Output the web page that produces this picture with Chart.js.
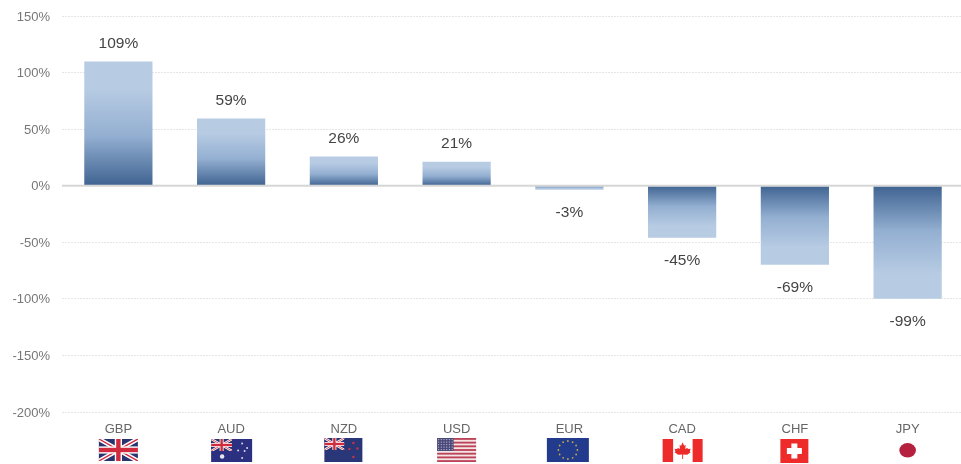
<!DOCTYPE html>
<html>
<head>
<meta charset="utf-8">
<script src="https://cdn.jsdelivr.net/npm/chart.js@4"></script>
<style>
html, body { margin: 0; padding: 0; background: #fff; overflow: hidden; }
#wrap { width: 964px; height: 464px; }
</style>
</head>
<body>
<div id="wrap"><canvas id="chart"></canvas></div>
<script>
const categories = ["GBP", "AUD", "NZD", "USD", "EUR", "CAD", "CHF", "JPY"];
const values = [109.7, 59.3, 25.8, 21.2, -3.5, -45.9, -69.9, -99.9];
const valueLabels = ["109%", "59%", "26%", "21%", "-3%", "-45%", "-69%", "-99%"];
const yTicks = [150, 100, 50, 0, -50, -100, -150, -200];

const FONT = '"Liberation Sans", Arial, sans-serif';

function barGradient(context) {
    const chart = context.chart;
    const y = chart.scales.y;
    if (!y || !chart.chartArea) {
        return "#b7cbe3";
    }
    const base = y.getPixelForValue(0);
    const end = y.getPixelForValue(values[context.dataIndex]);
    const g = chart.ctx.createLinearGradient(0, base, 0, end);
    g.addColorStop(0, "#3f6391");
    g.addColorStop(0.4, "#93afd1");
    g.addColorStop(0.78, "#b7cbe3");
    g.addColorStop(1, "#b7cbe3");
    return g;
}

// small helpers for the flags
function rect(c, color, x, y, w, h) {
    c.fillStyle = color;
    c.fillRect(x, y, w, h);
}

function line(c, color, width, x1, y1, x2, y2) {
    c.strokeStyle = color;
    c.lineWidth = width;
    c.beginPath();
    c.moveTo(x1, y1);
    c.lineTo(x2, y2);
    c.stroke();
}

function dot(c, color, x, y, r) {
    c.fillStyle = color;
    c.beginPath();
    c.arc(x, y, r, 0, Math.PI * 2);
    c.fill();
}

function unionJack(c, x, y, w, h) {
    rect(c, "#28336f", x, y, w, h);
    c.save();
    c.beginPath();
    c.rect(x, y, w, h);
    c.clip();
    const t = h / 22;
    line(c, "#fff", 4.4 * t, x, y, x + w, y + h);
    line(c, "#fff", 4.4 * t, x + w, y, x, y + h);
    line(c, "#cf2a3e", 1.4 * t, x, y, x + w, y + h);
    line(c, "#cf2a3e", 1.4 * t, x + w, y, x, y + h);
    rect(c, "#fff", x + w / 2 - 3.6 * t, y, 7.2 * t, h);
    rect(c, "#fff", x, y + h / 2 - 3.6 * t, w, 7.2 * t);
    rect(c, "#cf2a3e", x + w / 2 - 2.2 * t, y, 4.4 * t, h);
    rect(c, "#cf2a3e", x, y + h / 2 - 2.2 * t, w, 4.4 * t);
    c.restore();
}

const flagDrawers = {
    GBP(c, cx) {
        unionJack(c, cx - 19.5, 439, 39, 22);
    },
    AUD(c, cx) {
        const x = cx - 20, y = 439;
        rect(c, "#2b3180", x, y, 41, 23);
        unionJack(c, x, y, 21, 12);
        dot(c, "#e8e8f2", x + 11, y + 17.5, 2.2);
        [[31, 4.5], [36, 9], [27, 11.5], [31, 19], [33.5, 12]].forEach(function(s) {
            dot(c, "#d5d6ea", x + s[0], y + s[1], 1);
        });
    },
    NZD(c, cx) {
        const x = cx - 19.5, y = 438;
        rect(c, "#293678", x, y, 38, 24);
        unionJack(c, x, y, 20, 12);
        [[29, 5], [33, 10.5], [25, 11], [29, 19]].forEach(function(s) {
            dot(c, "#b8344f", x + s[0], y + s[1], 1.3);
        });
    },
    USD(c, cx) {
        const x = cx - 19.5, y = 438;
        rect(c, "#f4e4e6", x, y, 39, 24);
        for (let i = 0; i < 7; i++) {
            rect(c, "#bb4357", x, y + i * 24 / 6.5, 39, 24 / 13);
        }
        rect(c, "#4a4878", x, y, 16.5, 13);
        for (let r = 0; r < 5; r++) {
            for (let s = 0; s < 6; s++) {
                dot(c, "#b9b9d2", x + 1.5 + s * 2.7, y + 1.6 + r * 2.5, 0.7);
            }
        }
    },
    EUR(c, cx) {
        const x = cx - 22.5, y = 438;
        rect(c, "#233b8c", x, y, 42, 24);
        for (let i = 0; i < 12; i++) {
            const a = i * Math.PI / 6;
            dot(c, "#c4a94a", x + 21 + Math.cos(a) * 9.5, y + 12 + Math.sin(a) * 9, 0.9);
        }
    },
    CAD(c, cx) {
        const x = cx - 19.5, y = 439;
        rect(c, "#fff", x, y, 40, 23);
        rect(c, "#ee2b2b", x, y, 10.5, 23);
        rect(c, "#ee2b2b", x + 30, y, 10, 23);
        const mx = x + 20, my = y + 2.5;
        const k = 0.76;
        c.fillStyle = "#ee2b2b";
        c.beginPath();
        [[0, 1], [2, 5.5], [4, 4.5], [3.5, 10], [6, 8.5], [7.5, 10], [10.5, 9.5], [9.5, 13], [10.5, 14],
         [6, 17.5], [0.6, 17], [0.6, 23], [-0.6, 23], [-0.6, 17], [-6, 17.5], [-10.5, 14], [-9.5, 13],
         [-10.5, 9.5], [-7.5, 10], [-6, 8.5], [-3.5, 10], [-4, 4.5], [-2, 5.5]].forEach(function(p, i) {
            if (i === 0) {
                c.moveTo(mx + p[0] * k, my + p[1] * k);
            } else {
                c.lineTo(mx + p[0] * k, my + p[1] * k);
            }
        });
        c.closePath();
        c.fill();
    },
    CHF(c, cx) {
        const x = cx - 14.5, y = 439;
        rect(c, "#ee2b2b", x, y, 28, 24);
        rect(c, "#fff", x + 11, y + 4.5, 6, 15);
        rect(c, "#fff", x + 6.5, y + 9, 15, 6);
    },
    JPY(c, cx) {
        c.fillStyle = "#b5203f";
        c.beginPath();
        c.ellipse(cx, 450.3, 8.3, 7.3, 0, 0, Math.PI * 2);
        c.fill();
    }
};

const overlays = {
    id: "overlays",
    afterDatasetsDraw(chart) {
        const c = chart.ctx;
        const meta = chart.getDatasetMeta(0);
        const zero = chart.scales.y.getPixelForValue(0);

        // zero line sits on top of the bars
        c.save();
        rect(c, "#d6d6d6", chart.chartArea.left, zero - 1, chart.chartArea.width, 2);

        c.font = "15.5px " + FONT;
        c.fillStyle = "#444";
        c.textAlign = "center";
        c.textBaseline = "middle";
        meta.data.forEach(function(bar, i) {
            const offset = values[i] < 0 ? 23 : -18;
            c.fillText(valueLabels[i], bar.x, bar.y + offset);
        });

        categories.forEach(function(name, i) {
            flagDrawers[name](c, chart.scales.x.getPixelForTick(i));
        });
        c.restore();
    }
};

new Chart(document.getElementById("chart"), {
    type: "bar",
    data: {
        labels: categories,
        datasets: [{
            data: values,
            backgroundColor: barGradient,
            barPercentage: 0.605,
            categoryPercentage: 1
        }]
    },
    plugins: [overlays],
    options: {
        responsive: true,
        maintainAspectRatio: false,
        animation: false,
        layout: { padding: { top: 16, left: 0, right: 0, bottom: 0 } },
        plugins: {
            legend: { display: false },
            tooltip: { enabled: false }
        },
        scales: {
            x: {
                afterFit: function(scale) { scale.height = 52; },
                grid: { display: false, drawTicks: false },
                border: { display: false },
                ticks: {
                    color: "#666",
                    font: { family: FONT, size: 13 },
                    padding: 10,
                    maxRotation: 0
                }
            },
            y: {
                min: -200,
                max: 150,
                afterFit: function(scale) { scale.width = 62; },
                afterBuildTicks: function(scale) {
                    scale.ticks = yTicks.map(function(v) { return { value: v }; });
                },
                grid: {
                    color: "#e6e6e6",
                    lineWidth: 1,
                    tickLength: 12,
                    tickColor: "transparent"
                },
                border: { display: false, dash: [2, 1] },
                ticks: {
                    color: "#777",
                    font: { family: FONT, size: 13 },
                    padding: 0,
                    labelOffset: 1,
                    callback: function(v) { return v + "%"; }
                }
            }
        }
    }
});
</script>
</body>
</html>
